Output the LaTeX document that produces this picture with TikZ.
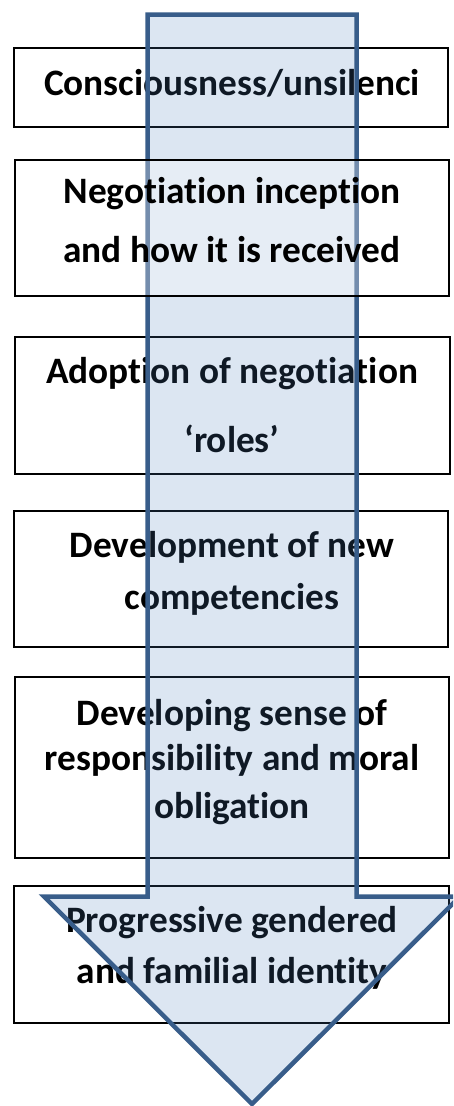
\documentclass[tikz,border=0pt]{standalone}
\usepackage{fontspec}
\setmainfont[Ligatures=NoCommon]{Carlito}
\definecolor{arrowfill}{HTML}{4F81BD}
\definecolor{arrowline}{HTML}{385D8A}
\begin{document}
\begin{tikzpicture}[x=1pt,y=-1pt,
  box/.style={draw=black, line width=1.5pt, inner sep=0pt, rectangle},
  lbl/.style={font=\bfseries\fontsize{37.3}{37.3}\selectfont, anchor=base, inner sep=0pt, text=black},
  bigarrow/.style={draw=arrowline, line width=4.5pt, fill=arrowfill, fill opacity=0.2, line join=miter}]
\useasboundingbox (0,0) rectangle (453,1106);
\clip (0,0) rectangle (453,1106);
% boxes beneath the arrow
\node[box, minimum width=434pt, minimum height=79pt] (b1) at (231,87.5) {};
\node[box, minimum width=435pt, minimum height=137pt] (b3) at (232.5,405.5) {};
\node[box, minimum width=434pt, minimum height=136pt] (b4) at (231,579) {};
\node[box, minimum width=434pt, minimum height=181pt] (b5) at (232,767.5) {};
\node[box, minimum width=435pt, minimum height=137pt] (b6) at (231.5,954.5) {};
\node[lbl] (t1) at (232,95) {Consciousness/unsilenci};
\node[lbl] (t3a) at (232,383) {Adoption of negotiation};
\node[lbl] (t3b) at (232,452) {‘roles’};
\node[lbl] (t4a) at (232,557) {Development of new};
\node[lbl] (t4b) at (232,609) {competencies};
\node[lbl] (t5a) at (232,725) {Developing sense of};
\node[lbl] (t5b) at (232,770) {responsibility and moral};
\node[lbl] (t5c) at (232,818) {obligation};
\node[lbl] (t6a) at (232,932) {Progressive gendered};
\node[lbl] (t6b) at (232,983) {and familial identity};
% the arrow
\draw[bigarrow] (147.5,14.5) -- (356.5,14.5) -- (356.5,896.5) -- (460,896.5)
  -- (252,1104) -- (44,896.5) -- (147.5,896.5) -- cycle;
% box above the arrow
\node[box, fill=white, fill opacity=0.3, minimum width=434pt, minimum height=136pt] (b2) at (232,228) {};
\node[lbl] (t2a) at (232,203) {Negotiation inception};
\node[lbl] (t2b) at (232,262) {and how it is received};
\end{tikzpicture}
\end{document}
